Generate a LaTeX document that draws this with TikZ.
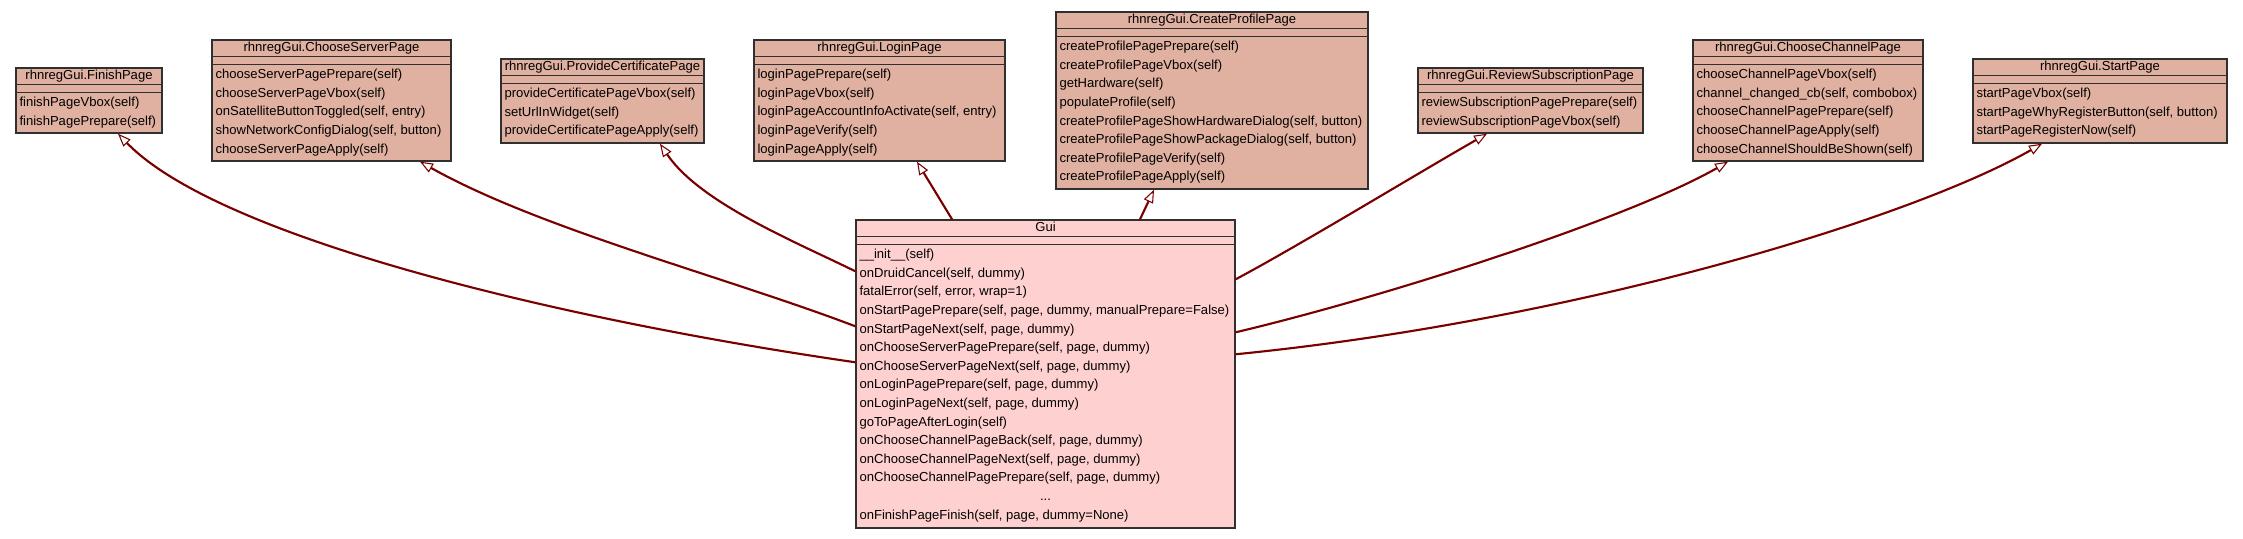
\documentclass[tikz,border=0pt]{standalone}
\usepackage{fontspec}
\setmainfont{Liberation Sans}
\usetikzlibrary{arrows.meta}
\definecolor{basefill}{HTML}{E0B0A0}
\definecolor{guifill}{HTML}{FFD0D0}
\definecolor{edgecol}{HTML}{7A0000}
\definecolor{boxline}{HTML}{303030}
\tikzset{
  classbox/.style={rectangle, draw=boxline, line width=1.1pt, inner sep=0pt},
  basebox/.style={classbox, fill=basefill},
  guibox/.style={classbox, fill=guifill},
  sepline/.style={draw=boxline, line width=1.1pt},
  umltext/.style={inner sep=0pt, font=\fontsize{9.8pt}{11pt}\selectfont, text=black},
  inh/.style={draw=edgecol, line width=1.6pt,
    -{Triangle[fill=white, length=9.75pt, width=7.5pt, line width=0.8pt]}}
}
\newcommand{\umlclass}[6]{%
  \node[#5, minimum width=#3, minimum height=#4] (#1) at (#2) {};
  \draw[sepline] ([yshift=-12.75pt]#1.north west) -- ([yshift=-12.75pt]#1.north east);
  \draw[sepline] ([yshift=-18.75pt]#1.north west) -- ([yshift=-18.75pt]#1.north east);
  \node[umltext, anchor=base] (#1-t) at ([yshift=-9.4pt]#1.north) {#6};
}
\newcommand{\umlmethods}[2]{%
  \foreach \m [count=\i from 0] in {#2} {
    \pgfmathsetmacro\yy{-29.6-\i*13.95}
    \node[umltext, anchor=base west] (#1-m\i) at ([xshift=3pt, yshift=\yy pt]#1.north west) {\m};
  }}
\begin{document}
\begin{tikzpicture}[x=0.75pt, y=-0.75pt]
\useasboundingbox (0,0) rectangle (2243,539);

\umlclass{fp}{89,100.5}{109.5pt}{48.75pt}{basebox}{rhnregGui.FinishPage}
\umlmethods{fp}{{finishPageVbox(self)},{finishPagePrepare(self)}}

\umlclass{csp}{331.5,100.5}{179.25pt}{90.75pt}{basebox}{rhnregGui.ChooseServerPage}
\umlmethods{csp}{{chooseServerPagePrepare(self)},{chooseServerPageVbox(self)},{onSatelliteButtonToggled(self, entry)},{showNetworkConfigDialog(self, button)},{chooseServerPageApply(self)}}

\umlclass{pcp}{602.5,101}{152.25pt}{63pt}{basebox}{rhnregGui.ProvideCertificatePage}
\umlmethods{pcp}{{provideCertificatePageVbox(self)},{setUrlInWidget(self)},{provideCertificatePageApply(self)}}

\umlclass{lp}{879.5,100.5}{188.25pt}{90.75pt}{basebox}{rhnregGui.LoginPage}
\umlmethods{lp}{{loginPagePrepare(self)},{loginPageVbox(self)},{loginPageAccountInfoActivate(self, entry)},{loginPageVerify(self)},{loginPageApply(self)}}

\umlclass{cpp}{1212,100.5}{234pt}{132.75pt}{basebox}{rhnregGui.CreateProfilePage}
\umlmethods{cpp}{{createProfilePagePrepare(self)},{createProfilePageVbox(self)},{getHardware(self)},{populateProfile(self)},{createProfilePageShowHardwareDialog(self, button)},{createProfilePageShowPackageDialog(self, button)},{createProfilePageVerify(self)},{createProfilePageApply(self)}}

\umlclass{rsp}{1530.5,100.5}{168.75pt}{48.75pt}{basebox}{rhnregGui.ReviewSubscriptionPage}
\umlmethods{rsp}{{reviewSubscriptionPagePrepare(self)},{reviewSubscriptionPageVbox(self)}}

\umlclass{ccp}{1808,100.5}{172.5pt}{90.75pt}{basebox}{rhnregGui.ChooseChannelPage}
\umlmethods{ccp}{{chooseChannelPageVbox(self)},{channel\_changed\_cb(self, combobox)},{chooseChannelPagePrepare(self)},{chooseChannelPageApply(self)},{chooseChannelShouldBeShown(self)}}

\umlclass{sp}{2100,101}{190.5pt}{63pt}{basebox}{rhnregGui.StartPage}
\umlmethods{sp}{{startPageVbox(self)},{startPageWhyRegisterButton(self, button)},{startPageRegisterNow(self)}}

\umlclass{gui}{1045.5,374}{284.25pt}{231pt}{guibox}{Gui}
\umlmethods{gui}{{\_\_init\_\_(self)},{onDruidCancel(self, dummy)},{fatalError(self, error, wrap=1)},{onStartPagePrepare(self, page, dummy, manualPrepare=False)},{onStartPageNext(self, page, dummy)},{onChooseServerPagePrepare(self, page, dummy)},{onChooseServerPageNext(self, page, dummy)},{onLoginPagePrepare(self, page, dummy)},{onLoginPageNext(self, page, dummy)},{goToPageAfterLogin(self)},{onChooseChannelPageBack(self, page, dummy)},{onChooseChannelPageNext(self, page, dummy)},{onChooseChannelPagePrepare(self, page, dummy)}}
\node[umltext, anchor=base] (gui-dots) at ([yshift=-210.95pt]gui.north) {...};
\node[umltext, anchor=base west] (gui-last) at ([xshift=3pt, yshift=-224.9pt]gui.north west) {onFinishPageFinish(self, page, dummy=None)};

% inheritance edges
\draw[inh] ([yshift=-107.25pt]gui.north west) .. controls (556,319) and (218,237) .. ([xshift=21.75pt]fp.south);
\draw[inh] ([yshift=-80.25pt]gui.north west) .. controls (726,277) and (540,229) .. ([xshift=66.4pt]csp.south);
\draw[inh] ([yshift=-39pt]gui.north west) .. controls (796,242) and (700,203) .. ([xshift=43.1pt]pcp.south);
\draw[inh] ([xshift=-70.1pt]gui.north) -- ([xshift=28.1pt]lp.south);
\draw[inh] ([xshift=70.9pt]gui.north) -- ([xshift=-43.5pt]cpp.south);
\draw[inh] ([yshift=-45pt]gui.north east) .. controls (1300,245) and (1420,172) .. ([xshift=-32.6pt]rsp.south);
\draw[inh] ([yshift=-84.75pt]gui.north east) .. controls (1385,297) and (1628,219) .. ([xshift=-60pt]ccp.south);
\draw[inh] ([yshift=-101.25pt]gui.north east) .. controls (1580,320) and (1912,218) .. ([xshift=-43.5pt]sp.south);
\end{tikzpicture}
\end{document}
